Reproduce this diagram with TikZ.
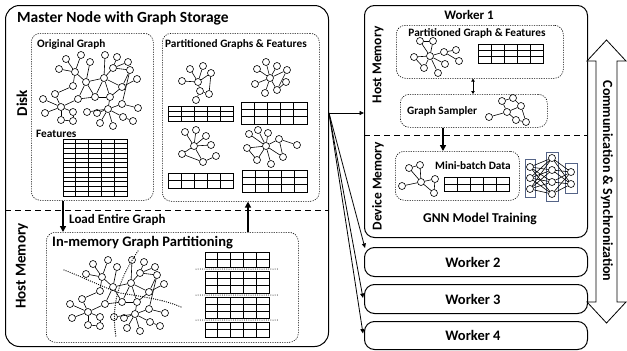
\documentclass[tikz,border=0pt]{standalone}
\usepackage{fontspec}
\setmainfont{Carlito}
\usetikzlibrary{arrows.meta,calc}
\definecolor{nnblue}{RGB}{85,100,135}
\newcommand\drawgraph[3]{%
  \foreach \n/\x/\y in #2 {\node[gn] (#1\n) at (\x,\y) {};}
  \foreach \a/\b in #3 {\draw[ge] (#1\a) -- (#1\b);}
}
\newcommand\ftable[7]{%
  \node[tbl, minimum width=#4pt, minimum height=#5pt, anchor=north west] (#1) at (#2,#3) {};
  \pgfmathtruncatemacro\tcm{#6-1}%
  \pgfmathtruncatemacro\trm{#7-1}%
  \foreach \i in {1,...,\tcm} {\draw[tblline] ($(#1.north west)!{\i/#6}!(#1.north east)$) -- ($(#1.south west)!{\i/#6}!(#1.south east)$);}
  \foreach \j in {1,...,\trm} {\draw[tblline] ($(#1.north west)!{\j/#7}!(#1.south west)$) -- ($(#1.north east)!{\j/#7}!(#1.south east)$);}
}
\def\ogN{A1/66/59,A2/81/55,A3/90/62,A4/59/69,A5/75/72,A6/86/82,A7/73/86,B1/105/55,B2/117/57,B3/128/62,B4/130/70,B5/113/68,B6/104/78,B7/137/79,B8/122/87,C1/95/97,C2/110/97,D1/55/94,D2/43/99,D3/78/99,D4/61/107,D5/45/113,D6/73/112,D7/61/120,D8/73/121,E1/108/109,E2/87/112,E3/100/123,E4/113/126,E5/123/117,E6/133/121,E7/138/108,E8/122/104,E9/97/113}
\def\ogE{A5/A1,A5/A2,A5/A4,A5/A6,A5/A7,A3/A6,A6/B6,A6/C1,A6/D3,B6/B1,B6/B5,B5/B2,B5/B3,B5/B4,B6/B8,B8/B4,B8/B7,B6/C1,B6/C2,C2/B8,C1/C2,B4/E8,E8/E1,C2/E1,E1/E2,E1/E3,E1/E4,E1/E5,E5/E6,E8/E7,E1/E9,D4/D1,D4/D2,D4/D3,D4/D5,D4/D6,D4/D7,D6/D8,D7/D8,D1/A7,D3/C1}
\def\pAN{1/182/81,2/190/69,3/203/66,4/211/73,5/198/82,6/200/91,7/209/94,8/196/100}
\def\pAE{5/1,5/2,5/3,5/4,4/7,5/6,6/7,6/8}
\def\pBN{1/257/69,2/266/62,3/277/66,4/287/70,5/270/78,6/255/84,7/265/93,8/277/90,9/286/82}
\def\pBE{5/1,5/2,5/3,5/4,4/8,5/6,5/7,5/8,8/9}
\def\pCN{1/185/132,2/196/130,3/206/136,4/211/145,5/194/146,6/182/154,8/203/162,9/216/156}
\def\pCE{5/1,5/2,5/3,5/4,5/6,5/8,6/8,8/9}
\def\pDN{1/249/134,2/258/130,3/268/133,4/247/148,5/266/146,6/279/139,7/297/145,8/257/160,9/271/164,10/283/157}
\def\pDE{5/1,5/2,5/3,5/4,5/6,6/7,5/8,5/9,5/10,4/8,6/10}
\def\wpN{1/420/41,2/433/41,3/414/57,4/430/56,5/444/52,6/456/50,7/459/61,8/424/68,9/445/64,10/438/73}
\def\wpE{1/2,1/4,2/4,3/4,4/5,5/6,5/7,4/8,4/9,4/10,3/8}
\def\gsN{1/489/117,2/502/101,3/513/98,4/507/112,5/521/106,6/516/120,7/526/122}
\def\gsE{1/4,2/3,2/4,3/5,4/5,4/6,5/7,6/7}
\def\mbN{1/402/186,2/409/168,3/420/165,4/421/182,5/435/179,6/434/193}
\def\mbE{1/4,2/3,2/4,3/4,4/5,4/6,5/6}
\begin{document}
\begin{tikzpicture}[x=1pt,y=-1pt,
  gn/.style={circle,draw,fill=white,inner sep=0pt,minimum size=7pt,line width=0.6pt},
  ge/.style={line width=0.6pt},
  outerbox/.style={draw,line width=1pt,rounded corners=14pt,inner sep=0pt},
  wbox/.style={draw,line width=1pt,rounded corners=10pt,inner sep=0pt,anchor=north west,minimum width=223pt},
  dotbox/.style={draw,dash pattern=on 1.2pt off 1.2pt,line width=0.6pt,rounded corners=9pt,inner sep=0pt,anchor=north west},
  sep/.style={dash pattern=on 6pt off 4pt,line width=0.8pt},
  tbl/.style={draw,line width=0.8pt,inner sep=0pt,outer sep=0pt},
  tblline/.style={line width=0.7pt},
  cut/.style={line width=1.3pt,dash pattern=on 0pt off 2.2pt,line cap=round},
  arr/.style={-{Triangle[length=4.5pt,width=4pt]},line width=0.8pt},
  thickarr/.style={-{Triangle[length=6pt,width=6pt]},line width=1.6pt},
  lab/.style={inner sep=0pt,font=\bfseries\fontsize{11.3}{13}\selectfont},
  big/.style={inner sep=0pt,font=\bfseries\fontsize{15}{17}\selectfont},
  nnrect/.style={draw=nnblue,line width=0.9pt,inner sep=0pt,anchor=north west}
]
\useasboundingbox (0,0) rectangle (627,351);
% ---------- master node ----------
\node[outerbox,minimum width=323pt,minimum height=341pt,anchor=north west] (master) at (5,5) {};
\node[anchor=west,inner sep=0pt,font=\bfseries\fontsize{15.5}{18}\selectfont] (title) at (17,18) {Master Node with Graph Storage};
\coordinate (msep) at (0,210);
\draw[sep] (master.west |- msep) -- (master.east |- msep);
\node[big,rotate=90] (disk) at (22,103) {Disk};
\node[big,rotate=90] (hostm) at (22,266) {Host Memory};
% original graph
\node[dotbox,minimum width=122pt,minimum height=167pt] (ogbox) at (31,33) {};
\node[lab,anchor=west] (oglab) at (37,44) {Original Graph};
\drawgraph{og}{\ogN}{\ogE}
\node[lab,anchor=west] (featlab) at (36,134) {Features};
\ftable{ftab}{63}{139}{64}{57}{5}{12}
% partitioned graphs
\node[dotbox,minimum width=157pt,minimum height=168pt] (pbox) at (162,33) {};
\node[lab,anchor=west] (plab) at (165,44) {Partitioned Graphs \& Features};
\drawgraph{pa}{\pAN}{\pAE}
\drawgraph{pb}{\pBN}{\pBE}
\drawgraph{pc}{\pCN}{\pCE}
\drawgraph{pd}{\pDN}{\pDE}
\ftable{ta}{168}{106}{65}{15}{5}{3}
\ftable{tb}{241}{102}{66}{22}{5}{3}
\ftable{tc}{168}{173}{65}{15}{5}{2}
\ftable{td}{242}{170}{65}{22}{5}{3}
% in-memory partitioning
\node[dotbox,minimum width=252pt,minimum height=110pt] (imbox) at (46,232) {};
\node[anchor=west,inner sep=0pt,font=\bfseries\fontsize{14.5}{16}\selectfont] (imlab) at (52,243) {In-memory Graph Partitioning};
\begin{scope}[shift={(27,205)}]
\drawgraph{im}{\ogN}{\ogE}
\end{scope}
\draw[cut] (64,270) .. controls (85,278) and (100,286) .. (120,293) .. controls (145,297) and (165,300) .. (181,307);
\draw[cut] (138,251) .. controls (122,275) and (110,300) .. (116,337);
\ftable{ia}{205}{252}{64}{15}{5}{2}
\ftable{ib}{205}{271}{64}{22}{5}{3}
\ftable{ic}{205}{297}{64}{21}{5}{3}
\ftable{id}{205}{322}{64}{15}{5}{2}
\draw[cut,line width=1pt] ($(ia.south west)+(-9,2)$) -- ($(ia.south east)+(9,2)$);
\draw[cut,line width=1pt] ($(ib.south west)+(-9,2)$) -- ($(ib.south east)+(9,2)$);
\draw[cut,line width=1pt] ($(ic.south west)+(-9,2)$) -- ($(ic.south east)+(9,2)$);
% arrows inside master
\draw[thickarr] (ftab.west |- ogbox.south) -- (ftab.west |- imbox.north);
\node[anchor=west,inner sep=0pt,font=\bfseries\fontsize{13}{15}\selectfont] (loadlab) at (69,220) {Load Entire Graph};
\coordinate (upx) at (248,0);
\draw[thickarr] (imbox.north -| upx) -- (pbox.south -| upx);
% ---------- worker 1 ----------
\node[wbox,minimum height=232pt] (w1) at (364,5) {};
\node[inner sep=0pt,font=\bfseries\fontsize{13}{15}\selectfont] (w1lab) at (469,15) {Worker 1};
\coordinate (wsep) at (0,135);
\draw[sep] (w1.west |- wsep) -- (w1.east |- wsep);
\node[inner sep=0pt,rotate=90,font=\bfseries\fontsize{13.5}{15}\selectfont] (whm) at (378,65) {Host Memory};
\node[inner sep=0pt,rotate=90,font=\bfseries\fontsize{13.5}{15}\selectfont] (wdm) at (378,186) {Device Memory};
\node[dotbox,minimum width=167pt,minimum height=53pt] (wpbox) at (396,25) {};
\node[lab] (wplab) at (477,33) {Partitioned Graph \& Features};
\drawgraph{wp}{\wpN}{\wpE}
\ftable{wt}{478}{44}{65}{19}{5}{3}
\node[dotbox,minimum width=147pt,minimum height=33pt] (sbox) at (400,94) {};
\node[lab,anchor=west] (slab) at (407,111) {Graph Sampler};
\drawgraph{gs}{\gsN}{\gsE}
\draw[{Triangle[length=3pt,width=3.5pt]}-{Triangle[length=3pt,width=3.5pt]},line width=0.8pt] (wpbox.south -| 473,0) -- (sbox.north -| 473,0);
\node[dotbox,minimum width=124pt,minimum height=49pt] (mbbox) at (395,151) {};
\draw[thickarr] (sbox.south -| 443,0) -- (mbbox.north -| 443,0);
\node[lab] (mblab) at (473,166) {Mini-batch Data};
\drawgraph{mb}{\mbN}{\mbE}
\ftable{mt}{444}{177}{65}{14}{5}{2}
% neural network
\node[nnrect,minimum width=10pt,minimum height=38pt] (r1) at (525,159) {};
\node[nnrect,minimum width=12pt,minimum height=49pt] (r2) at (546,152) {};
\node[nnrect,minimum width=12pt,minimum height=30pt] (r3) at (565,163) {};
\foreach \k/\y in {1/167,2/178,3/189} {\node[gn] (la\k) at (530,\y) {};}
\foreach \k/\y in {1/158,2/170,3/182,4/194} {\node[gn] (lb\k) at (552,\y) {};}
\foreach \k/\y in {1/172,2/184} {\node[gn] (lc\k) at (571,\y) {};}
\foreach \a in {1,2,3} {\foreach \b in {1,2,3,4} {\draw[ge] (la\a) -- (lb\b);}}
\foreach \a in {1,2,3,4} {\foreach \b in {1,2} {\draw[ge] (lb\a) -- (lc\b);}}
\node[inner sep=0pt,font=\bfseries\fontsize{13.5}{15}\selectfont] (gnnlab) at (480,219) {GNN Model Training};
% ---------- workers 2-4 ----------
\node[wbox,minimum height=29pt] (w2) at (364,247) {};
\node[wbox,minimum height=29pt] (w3) at (364,284) {};
\node[wbox,minimum height=28pt] (w4) at (364,321) {};
\node[inner sep=0pt,font=\bfseries\fontsize{14.5}{16}\selectfont,xshift=-3pt] (w2lab) at (w2.center) {Worker 2};
\node[inner sep=0pt,font=\bfseries\fontsize{14.5}{16}\selectfont,xshift=-3pt] (w3lab) at (w3.center) {Worker 3};
\node[inner sep=0pt,font=\bfseries\fontsize{14.5}{16}\selectfont,xshift=-3pt] (w4lab) at (w4.center) {Worker 4};
% distribution arrows
\coordinate (srcy) at (0,113);
\coordinate (src) at (master.east |- srcy);
\draw[arr] (src) -- (w1.west |- srcy);
\draw[arr] (src) -- ($(w2.north west)+(1,1)$);
\draw[arr] (src) -- ($(w3.west)+(-1,-1)$);
\draw[arr] (src) -- ($(w4.west)+(-1,-2)$);
% ---------- communication arrow ----------
\draw[line width=0.8pt,fill=white] (606.5,40) -- (626,61) -- (617,61) -- (617,302) -- (626,302) -- (606.5,323) -- (587,302) -- (596,302) -- (596,61) -- (587,61) -- cycle;
\node[rotate=-90,inner sep=0pt,font=\bfseries\fontsize{14}{16}\selectfont] (comm) at (607,181) {Communication \& Synchronization};
\end{tikzpicture}
\end{document}
